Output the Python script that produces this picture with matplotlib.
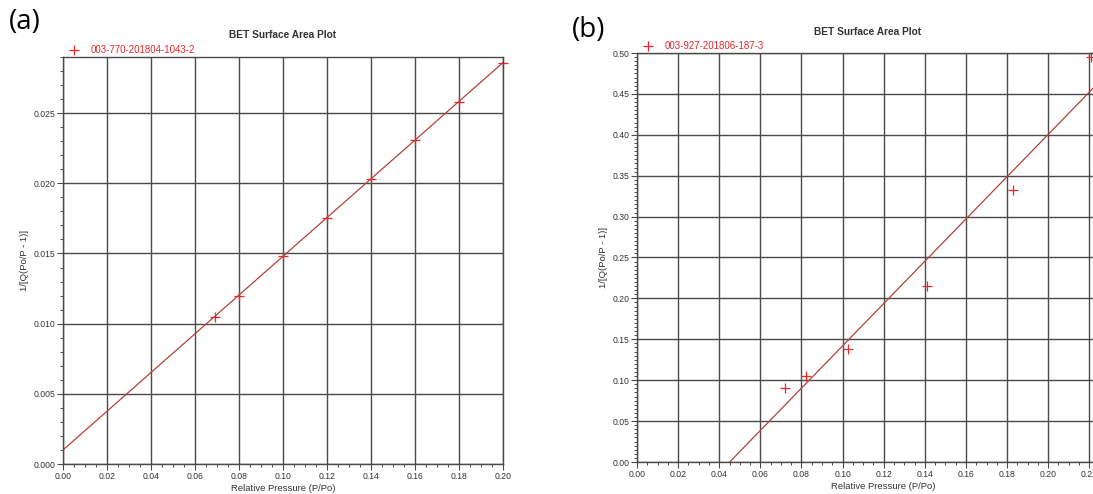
"""BET surface area plots, two samples side by side."""

import matplotlib
matplotlib.use("Agg")
import matplotlib.pyplot as plt
import numpy as np
from matplotlib.ticker import MultipleLocator, FormatStrFormatter

plt.rcParams["font.family"] = ["Liberation Sans", "DejaVu Sans"]

LINE_RED = "#b5403a"
MARK_RED = "#e8262a"
GRID = "#4a4a4a"
TXT = "#333333"

# sample (a)
name_a = "003-770-201804-1043-2"
p_a = [0.069, 0.080, 0.100, 0.120, 0.140, 0.160, 0.180, 0.200]
q_a = [0.0105, 0.0120, 0.0148, 0.0175, 0.0203, 0.0231, 0.0258, 0.0286]
fit_a = (0.138, 0.00100)          # slope, intercept

# sample (b)
name_b = "003-927-201806-187-3"
p_b = [0.072, 0.082, 0.1025, 0.141, 0.183, 0.221]
q_b = [0.091, 0.105, 0.138, 0.215, 0.332, 0.495]
fit_b = (2.585, -0.1165)

W, H = 1093, 494
fig = plt.figure(figsize=(W / 100, H / 100), dpi=100)


def px_axes(left, right, top, bottom):
    return fig.add_axes([left / W, 1 - bottom / H, (right - left) / W, (bottom - top) / H])


def style(ax, xmaj, xmin, ymaj, ymin, yfmt, title_x=0.5, title_pad=13):
    ax.xaxis.set_major_locator(MultipleLocator(xmaj))
    ax.xaxis.set_minor_locator(MultipleLocator(xmin))
    ax.yaxis.set_major_locator(MultipleLocator(ymaj))
    ax.yaxis.set_minor_locator(MultipleLocator(ymin))
    ax.xaxis.set_major_formatter(FormatStrFormatter("%.2f"))
    ax.yaxis.set_major_formatter(FormatStrFormatter(yfmt))
    ax.grid(True, which="major", color=GRID, lw=1.0)
    ax.set_axisbelow(True)
    ax.tick_params(which="major", length=4.5, width=0.8, color=GRID,
                   labelsize=6.2, labelcolor=TXT, pad=1)
    ax.tick_params(which="minor", length=2.5, width=0.7, color=GRID)
    for s in ax.spines.values():
        s.set_color(GRID)
        s.set_linewidth(1.0)
    ax.set_xlabel("Relative Pressure (P/Po)", fontsize=6.8, color=TXT, labelpad=2.5)
    ax.set_ylabel("1/[Q(Po/P - 1)]", fontsize=6.8, color=TXT, labelpad=3)
    ax.set_title("BET Surface Area Plot", fontsize=7.3, fontweight="bold",
                 color=TXT, pad=title_pad, x=title_x)


def draw(ax, p, q, fit, name, xmax, width_px):
    x = np.array([0.0, xmax])
    ax.plot(x, fit[0] * x + fit[1], color=LINE_RED, lw=0.9)
    ax.plot(p, q, ls="none", marker="+", ms=7, mew=0.9, color=MARK_RED,
            clip_on=False, label=name)
    leg = ax.legend(loc="lower left", bbox_to_anchor=(5 / width_px, 1.002),
                    frameon=False, fontsize=7, handlelength=1.0,
                    handletextpad=1.25, borderpad=0.1, borderaxespad=0.0)
    for t in leg.get_texts():
        t.set_color(MARK_RED)


# (a)
ax_a = px_axes(63, 503, 57, 464)
draw(ax_a, p_a, q_a, fit_a, name_a, 0.20, 440)
ax_a.set_xlim(0, 0.20)
ax_a.set_ylim(0, 0.029)
style(ax_a, 0.02, 0.005, 0.005, 0.001, "%.3f", title_pad=14)

# (b) -- plot runs past the right edge of the figure, as in the source screenshot
wb = 0.24 * 2056
ax_b = px_axes(637, 637 + wb, 53, 462)
draw(ax_b, p_b, q_b, fit_b, name_b, 0.24, wb)
ax_b.set_xlim(0, 0.24)
ax_b.set_ylim(0, 0.50)
style(ax_b, 0.02, 0.005, 0.05, 0.005, "%.2f",
      title_x=(868 - 637) / wb, title_pad=13)

fig.text(25 / W, 1 - 22 / H, "(a)", fontsize=20, family="Open Sans",
         ha="center", va="center")
fig.text(589 / W, 1 - 30 / H, "(b)", fontsize=20, family="Open Sans",
         ha="center", va="center")

fig.savefig("out.png", dpi=100)
